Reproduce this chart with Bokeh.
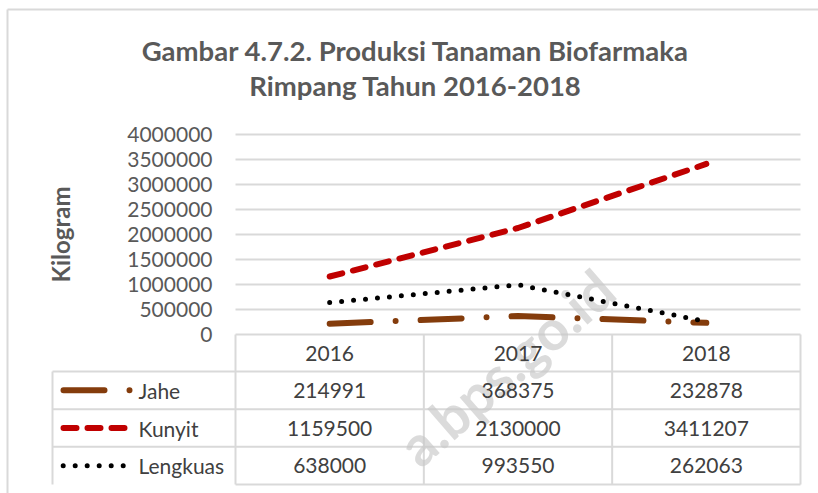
import math
from bokeh.plotting import figure
from bokeh.models import Range1d
from bokeh.embed import file_html
from bokeh.resources import INLINE
from bokeh.core.properties import value

# ---------------- data ----------------
title_line1 = "Gambar 4.7.2. Produksi Tanaman Biofarmaka"
title_line2 = "Rimpang Tahun 2016-2018"
y_label = "Kilogram"
years = ["2016", "2017", "2018"]
series_names = ["Jahe", "Kunyit", "Lengkuas"]
jahe = [214991, 368375, 232878]
kunyit = [1159500, 2130000, 3411207]
lengkuas = [638000, 993550, 262063]
y_ticks = [0, 500000, 1000000, 1500000, 2000000, 2500000, 3000000, 3500000, 4000000]
watermark = "a.bps.go.id"

# ---------------- styles ----------------
FONT = "Lato"
GRID = "#d9d9d9"
TXT = "#595959"
TTXT = "#404040"
series_vals = [jahe, kunyit, lengkuas]
colors = ["#843C0C", "#C00000", "#000000"]
dashes = ["41 25 0 25", "13 11", "0 12"]
widths = [6, 6, 5]

W, H = 818, 493
n = len(years)
# layout geometry (pixels): plot area left/right, value 0 and top value pixel rows
PL, PR, P0, PT = 235.0, 800.0, 334.0, 134.0
U = (PR - PL) / n                       # pixels per category
VPP = (y_ticks[-1] - y_ticks[0]) / (P0 - PT)   # value per pixel


def X(px):
    return (px - PL) / U


def Y(py):
    return (P0 - py) * VPP


p = figure(x_range=Range1d(X(0), X(W)), y_range=Range1d(Y(H), Y(0)),
           width=W, height=H, output_backend="svg", toolbar_location=None,
           min_border_left=0, min_border_right=0, min_border_top=0,
           min_border_bottom=0)
p.outline_line_color = None
p.axis.visible = False
p.grid.visible = False
p.background_fill_color = "white"

# outer chart border (left and top edges visible)
p.segment(x0=[X(7), X(7)], y0=[Y(9), Y(9)], x1=[X(7), X(W + 5)], y1=[Y(H + 5), Y(9)],
          line_color=GRID, line_width=2)

# horizontal gridlines
p.segment(x0=[0] * len(y_ticks), y0=y_ticks, x1=[n] * len(y_ticks), y1=y_ticks,
          line_color=GRID, line_width=2)

# data table grid
rows = len(series_names)
row_edges = [Y(334), Y(371), Y(408.7), Y(446.3), Y(484)]
left_edge = X(52)
p.segment(x0=[left_edge] * rows + [0], y0=row_edges[1:] + [row_edges[0]],
          x1=[n] * rows + [n], y1=row_edges[1:] + [row_edges[0]],
          line_color=GRID, line_width=2)
p.segment(x0=list(range(n + 1)), y0=[row_edges[0]] * (n + 1),
          x1=list(range(n + 1)), y1=[row_edges[-1]] * (n + 1),
          line_color=GRID, line_width=2)
p.segment(x0=[left_edge], y0=[row_edges[1]], x1=[left_edge], y1=[row_edges[-1]],
          line_color=GRID, line_width=2)

# watermark
p.text(x=[X(605)], y=[Y(280)], text=[watermark], angle=math.radians(41),
       text_align="right", text_baseline="alphabetic", text_font=value(FONT),
       text_font_style="bold", text_font_size="56px", text_color="#c8c8c8",
       text_alpha=0.65)

# y tick labels and axis title
p.text(x=[X(212)] * len(y_ticks), y=y_ticks, text=[str(v) for v in y_ticks],
       text_align="right", text_baseline="middle", text_font=value(FONT),
       text_font_size="21px", text_color=TXT)
p.text(x=[X(60)], y=[Y(234)], text=[y_label], angle=math.pi / 2,
       text_align="center", text_baseline="middle", text_font=value(FONT),
       text_font_style="bold", text_font_size="24px", text_color=TXT)

# title
p.text(x=[X(415), X(415)], y=[Y(50), Y(85)], text=[title_line1, title_line2],
       text_align="center", text_baseline="middle", text_font=value(FONT),
       text_font_style="bold", text_font_size="27.5px", text_color=TXT)

# series lines
xs = [i + 0.5 for i in range(n)]
for vals, col, dsh, w in zip(series_vals, colors, dashes, widths):
    p.line(x=xs, y=vals, line_color=col, line_width=w, line_dash=dsh,
           line_cap="round", line_join="round")

# table header (years)
p.text(x=xs, y=[(row_edges[0] + row_edges[1]) / 2] * n, text=years,
       text_align="center", text_baseline="middle", text_font=value(FONT),
       text_font_size="21px", text_color=TTXT)

# table rows with legend keys
key_x0 = [X(63), X(63), X(62.7)]
key_x1 = [X(130), X(124), X(125)]
for i, (name, vals) in enumerate(zip(series_names, series_vals)):
    yc = (row_edges[i + 1] + row_edges[i + 2]) / 2
    p.segment(x0=[key_x0[i]], y0=[yc], x1=[key_x1[i]], y1=[yc],
              line_color=colors[i], line_width=widths[i], line_dash=dashes[i],
              line_cap="round")
    p.text(x=[X(138)], y=[yc], text=[name], text_align="left",
           text_baseline="middle", text_font=value(FONT), text_font_size="21px",
           text_color=TTXT)
    p.text(x=xs, y=[yc] * n, text=[str(v) for v in vals],
           text_align="center", text_baseline="middle", text_font=value(FONT),
           text_font_size="21px", text_color=TTXT)

open("out.html", "w").write(file_html(p, INLINE))
